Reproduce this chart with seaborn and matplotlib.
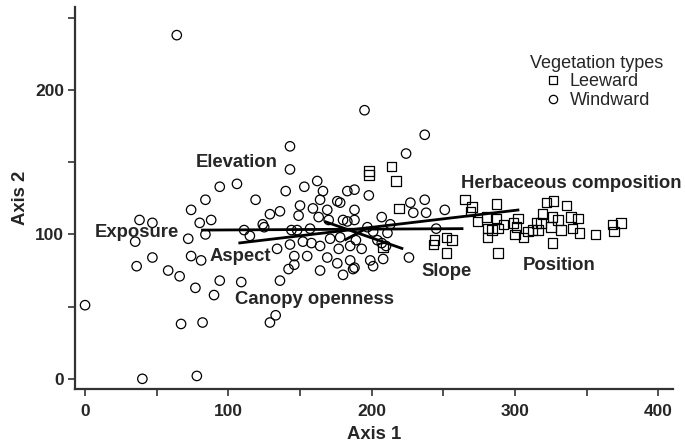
import matplotlib
matplotlib.use("Agg")
import matplotlib.pyplot as plt
import pandas as pd
import seaborn as sns
from matplotlib.lines import Line2D
from matplotlib.ticker import MultipleLocator

# sample scores
windward_x = [64, 0, 40, 78, 195, 237, 224, 94, 84, 227, 237, 251, 238, 245, 226,
              74, 38, 47, 88, 80, 84, 35, 72, 47, 74, 81, 36, 58, 66, 77, 94, 90,
              109, 136, 67, 82, 129, 133, 164, 180, 187, 142, 229, 210, 211, 213, 208,
              143, 143, 106, 162, 153, 140, 166, 183, 188, 198, 119, 164, 176, 178,
              150, 159, 169, 188, 136, 129, 149, 163, 170, 180, 183, 188, 207, 124,
              125, 111, 115, 144, 148, 157, 197, 201, 178, 143, 134, 152, 158, 164,
              171, 177, 185, 193, 189, 204, 207, 146, 155, 146, 169, 176, 185, 199,
              201, 188]
windward_y = [238, 51, 0, 2, 186, 169, 156, 133, 124, 122, 124, 117, 115, 104, 84,
              117, 110, 108, 110, 108, 100, 95, 97, 84, 85, 82, 78, 75, 71, 63, 68, 58,
              67, 68, 38, 39, 39, 44, 75, 72, 76, 76, 115, 92, 101, 107, 83,
              161, 145, 135, 137, 133, 130, 130, 130, 131, 127, 124, 124, 123, 122,
              120, 118, 117, 117, 116, 114, 113, 112, 110, 110, 109, 110, 112, 107,
              105, 103, 99, 103, 103, 104, 105, 102, 98, 93, 90, 95, 94, 92,
              97, 90, 92, 90, 96, 96, 94, 85, 85, 79, 84, 80, 82, 82,
              78, 77]
leeward_x = [198, 198, 214, 217, 219, 265, 270, 269, 287, 274, 280, 281, 284, 281,
             288, 287, 292, 299, 302, 301, 300, 306, 288, 244, 252, 256, 243, 252,
             309, 315, 319, 322, 327, 336, 326, 330, 339, 344, 318, 325, 316, 332,
             340, 345, 356, 368, 374, 369, 326, 312, 208]
leeward_y = [144, 141, 147, 137, 118, 124, 119, 116, 121, 109, 112, 104, 103, 98,
             104, 111, 107, 108, 111, 105, 100, 98, 87, 96, 98, 96, 93, 87,
             102, 108, 114, 122, 123, 120, 112, 110, 112, 111, 108, 105, 103, 103,
             104, 101, 100, 107, 108, 102, 94, 103, 91]

# environmental vectors (start and end of each drawn segment)
vec_x0 = [81, 107, 167, 181]
vec_y0 = [103, 94, 109, 96]
vec_x1 = [264, 303, 222, 197]
vec_y1 = [104, 117, 90, 104.5]

vec_labels = ["Elevation", "Exposure", "Aspect", "Canopy openness", "Slope",
              "Position", "Herbaceous composition"]
vec_label_x = [106, 36, 108, 160, 252, 331, 339]
vec_label_y = [150, 101, 84.5, 55, 74, 78.5, 135]

df = pd.DataFrame({
    "Axis 1": windward_x + leeward_x,
    "Axis 2": windward_y + leeward_y,
    "type": ["Windward"] * len(windward_x) + ["Leeward"] * len(leeward_x),
})

sns.set_style("ticks")
plt.rcParams["font.family"] = ["Liberation Sans", "DejaVu Sans"]

fig = plt.figure(figsize=(6.85, 4.45), dpi=100)
ax = fig.add_axes([0.1095, 0.126, 0.8725, 0.858])

sns.scatterplot(data=df, x="Axis 1", y="Axis 2", style="type",
                markers={"Leeward": "s", "Windward": "o"},
                s=46, color="black", linewidth=0.9, legend=False, ax=ax)
for coll in ax.collections:
    coll.set_facecolor("none")
    coll.set_edgecolor("black")

for x0, y0, x1, y1 in zip(vec_x0, vec_y0, vec_x1, vec_y1):
    ax.plot([x0, x1], [y0, y1], color="black", lw=2, solid_capstyle="butt")

for lab, lx, ly in zip(vec_labels, vec_label_x, vec_label_y):
    ax.text(lx, ly, lab, ha="center", va="center", fontsize=13.3,
            fontweight="bold", clip_on=False)

ax.set_xlim(-7, 410)
ax.set_ylim(-7, 257.4)
ax.xaxis.set_major_locator(MultipleLocator(100))
ax.xaxis.set_minor_locator(MultipleLocator(50))
ax.yaxis.set_major_locator(MultipleLocator(100))
ax.yaxis.set_minor_locator(MultipleLocator(50))
ax.tick_params(which="both", direction="out", length=5, width=1.2, color="#333333")
ax.tick_params(axis="x", pad=6, labelsize=12.5)
ax.tick_params(axis="y", pad=3, labelsize=12.5)
for t in ax.get_xticklabels() + ax.get_yticklabels():
    t.set_fontweight("bold")

sns.despine(ax=ax)
for side in ["left", "bottom"]:
    ax.spines[side].set_linewidth(1.6)
    ax.spines[side].set_color("#333333")

ax.set_xlabel("Axis 1", fontsize=13.3, fontweight="bold", labelpad=5)
ax.set_ylabel("Axis 2", fontsize=13.3, fontweight="bold", labelpad=4)

handles = [
    Line2D([], [], ls="none", marker="s", ms=6, mfc="none", mec="black", mew=0.9),
    Line2D([], [], ls="none", marker="o", ms=6, mfc="none", mec="black", mew=0.9),
]
ax.legend(handles, ["Leeward", "Windward"], title="Vegetation types",
          loc="center", bbox_to_anchor=(0.8715, 0.816),
          bbox_transform=fig.transFigure, frameon=False, fontsize=13,
          title_fontsize=13, handlelength=1.0, handletextpad=0.4,
          labelspacing=0.1)

fig.savefig("out.png", dpi=100)
